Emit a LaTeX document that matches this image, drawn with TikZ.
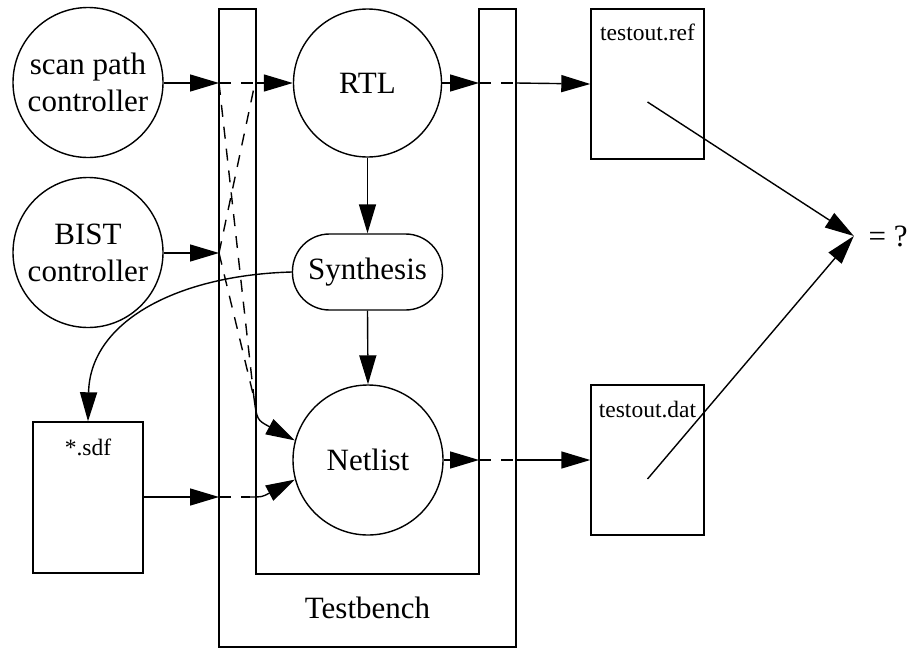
\documentclass[tikz,border=0pt]{standalone}
\usepackage{fontspec}
\setmainfont{Liberation Serif}
\usetikzlibrary{arrows.meta}
\newcommand\bigtxt{\fontsize{31}{37}\selectfont}
\newcommand\smalltxt{\fontsize{23.5}{28}\selectfont}
\begin{document}
\begin{tikzpicture}[x=1pt,y=-1pt,line width=1.4pt,
  arr/.style={-{Triangle[length=29pt,width=17pt]}},
  dsh/.style={dash pattern=on 12pt off 10pt},
  circnode/.style={draw,circle,minimum size=150pt,inner sep=0pt,align=center,font=\bigtxt},
  filebox/.style={draw,rectangle,minimum width=113pt,minimum height=150pt,inner sep=0pt},
  synbox/.style={draw,rectangle,rounded corners=37pt,minimum width=150pt,minimum height=76pt,inner sep=0pt,font=\bigtxt},
  lbl/.style={font=\smalltxt,anchor=base,inner sep=0pt}
]
\useasboundingbox (0,0) rectangle (909,648);

% Testbench frame
\draw (219,9) -- (219,647) -- (516,647) -- (516,9) -- (479,9) -- (479,574) -- (256,574) -- (256,9) -- cycle;
\node[font=\bigtxt] (tb) at (367.5,608) {Testbench};

% nodes
\node[circnode] (scan) at (88,82.5) {scan path\\controller};
\node[circnode] (bist) at (88,252.5) {BIST\\controller};
\node[circnode,minimum size=148pt] (rtl) at (367.5,83) {RTL};
\node[synbox] (syn) at (367.5,272) {Synthesis};
\node[circnode] (net) at (368,460) {Netlist};
\node[filebox,minimum width=110pt,minimum height=151pt] (sdf) at (88,497.5) {};
\node[lbl] (sdftxt) at ([yshift=-34pt]sdf.north) {*.sdf};
\node[filebox] (ref) at (647.5,84) {};
\node[lbl] (reftxt) at ([yshift=-32pt]ref.north) {testout.ref};
\node[filebox] (dat) at (647.5,460) {};
\node[lbl] (dattxt) at ([yshift=-33pt]dat.north) {testout.dat};
\node[font=\bigtxt,inner xsep=14pt] (eq) at (888,236) {= ?};

% wall coordinates
\coordinate (sA) at (219,83);
\coordinate (rA) at (255,83);
\coordinate (bA) at (219,253);
\coordinate (nA) at (254,398);
\coordinate (dA) at (219,497);
\coordinate (dB) at (250,497);
\coordinate (rR) at (479,83);
\coordinate (rO) at (516,83);
\coordinate (nR) at (479,460);
\coordinate (nO) at (516,460);
\coordinate (refpt) at ([yshift=-18pt]ref.center);
\coordinate (datpt) at ([yshift=-19pt]dat.center);

% inputs
\draw[arr] (scan.east |- sA) -- (sA);
\draw[arr] (bist.east |- bA) -- (bA);
\draw[arr] (sdf.east |- dA) -- (dA);

% dashed crossings
\draw[dsh] (sA) -- (rA);
\draw[dsh] (bA) -- (rA);
\draw[dsh] (sA) -- (nA);
\draw[dsh] (bA) -- (nA);
\draw[dsh] (dA) -- (dB);

% into RTL / Netlist
\draw[arr] (rA) -- (rtl.west);
\draw[arr] (nA) .. controls (257,420) .. (net.165);
\draw[arr] (dB) .. controls (262,497) .. (net.195);

% internal flow
\draw[arr] (rtl.south) -- (syn.north);
\draw[arr] (syn.south) -- (net.north);
\draw[arr] (syn.west) .. controls (180,275) and (90,320) .. (sdf.north);

% outputs
\draw[arr] (rtl.east) -- (rR);
\draw[dsh] (rR) -- (rO);
\draw[arr] (rO) -- (ref.west);
\draw[arr] (net.east) -- (nR);
\draw[dsh] (nR) -- (nO);
\draw[arr] (nO) -- (dat.west);

% comparison
\draw[arr] (refpt) -- (eq.west);
\draw[arr] (datpt) -- (eq.west);
\end{tikzpicture}
\end{document}
